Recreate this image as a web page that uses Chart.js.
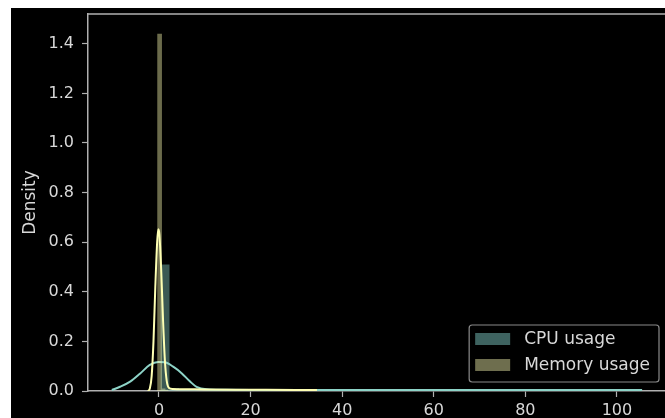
<!DOCTYPE html>
<html>
<head>
<meta charset="utf-8">
<script src="https://cdn.jsdelivr.net/npm/chart.js@4.4.1/dist/chart.umd.min.js"></script>
<style>
  html, body { margin: 0; padding: 0; background: #fff; overflow: hidden; }
  #wrap { position: absolute; left: 11px; top: 8px; width: 654px; height: 410px; background: #000; }
  canvas { display: block; }
</style>
</head>
<body>
<div id="wrap"><canvas id="chart" width="654" height="410"></canvas></div>
<script>
// histogram bins (density)
const cpuBinEdges = [0.3, 2.3, 4.4, 6.5, 8.6, 10.7, 12.8];
const cpuBinHeights = [0.51, 0.012, 0.006, 0.004, 0.003, 0.002, 0];
const memBinEdges = [-0.4, 0.65, 1.4, 2.1];
const memBinHeights = [1.44, 0.01, 0.005, 0];

// kde curves
const cpuKdeX = [-10.3, -8.5, -6.3, -4.1, -2.0, -0.15, 1.3, 3.1, 5.0, 6.8, 8.2, 10.4, 14, 20, 30, 45, 60, 80, 100, 105.5];
const cpuKdeY = [0.004, 0.017, 0.038, 0.071, 0.105, 0.117, 0.116, 0.098, 0.071, 0.038, 0.017, 0.007, 0.005, 0.004, 0.004, 0.004, 0.004, 0.004, 0.004, 0.004];
const memKdeX = [-2.4, -2.0, -1.6, -1.2, -0.8, -0.4, -0.15, 0.1, 0.5, 0.9, 1.3, 1.7, 2.2, 3, 6, 10, 20, 30, 34.5];
const memKdeY = [0, 0.01, 0.06, 0.2, 0.42, 0.6, 0.652, 0.63, 0.48, 0.28, 0.12, 0.04, 0.012, 0.008, 0.007, 0.006, 0.005, 0.004, 0.004];

const xTicks = [0, 20, 40, 60, 80, 100];
const yTicks = [0, 0.2, 0.4, 0.6, 0.8, 1.0, 1.2, 1.4];
const seriesNames = ['CPU usage', 'Memory usage'];

const textColor = '#d8d8d8';
const spineColor = '#b0b0b0';
const font = 'DejaVu Sans';

const pts = (xs, ys) => xs.map((x, i) => ({ x: x, y: ys[i] }));

// top spine + legend drawn by hand (matplotlib style)
const extras = {
  id: 'extras',
  afterDraw(chart) {
    const { ctx, chartArea: a } = chart;
    ctx.save();
    ctx.strokeStyle = spineColor;
    ctx.lineWidth = 1.5;
    ctx.beginPath();
    ctx.moveTo(a.left, a.top);
    ctx.lineTo(a.right, a.top);
    ctx.stroke();

    ctx.font = '17px "' + font + '"';
    const items = [
      { label: seriesNames[0], color: '#3e6360' },
      { label: seriesNames[1], color: '#6e6e4e' }
    ];
    const tw = Math.max(...items.map(it => ctx.measureText(it.label).width));
    const w = 6 + 35 + 14 + tw + 9, h = 57;
    const x0 = a.right - 6 - w, y0 = a.bottom - 9 - h;
    ctx.fillStyle = 'rgba(0,0,0,0.8)';
    ctx.strokeStyle = '#8a8a8a';
    ctx.lineWidth = 1.2;
    ctx.beginPath();
    ctx.roundRect(x0, y0, w, h, 3);
    ctx.fill();
    ctx.stroke();
    items.forEach((it, i) => {
      const cy = y0 + 14 + i * 26;
      ctx.fillStyle = it.color;
      ctx.fillRect(x0 + 6, cy - 6, 35, 12);
      ctx.fillStyle = textColor;
      ctx.textBaseline = 'middle';
      ctx.fillText(it.label, x0 + 6 + 35 + 14, cy + 1);
    });
    ctx.restore();
  }
};

new Chart(document.getElementById('chart'), {
  type: 'line',
  data: {
    datasets: [
      { label: seriesNames[1] + ' kde', data: pts(memKdeX, memKdeY), borderColor: '#feffb3', borderWidth: 2, pointRadius: 0, cubicInterpolationMode: 'monotone', order: 0 },
      { label: seriesNames[1], data: pts(memBinEdges, memBinHeights), stepped: 'before', fill: 'origin', backgroundColor: 'rgba(254,255,179,0.42)', borderWidth: 0, pointRadius: 0, order: 1 },
      { label: seriesNames[0] + ' kde', data: pts(cpuKdeX, cpuKdeY), borderColor: '#8dd3c7', borderWidth: 2, pointRadius: 0, cubicInterpolationMode: 'monotone', order: 2 },
      { label: seriesNames[0], data: pts(cpuBinEdges, cpuBinHeights), stepped: 'before', fill: 'origin', backgroundColor: 'rgba(141,211,199,0.42)', borderWidth: 0, pointRadius: 0, order: 3 }
    ]
  },
  options: {
    responsive: false,
    animation: false,
    layout: { padding: { top: 6, right: 0, left: 0, bottom: 0 } },
    plugins: { legend: { display: false }, tooltip: { enabled: false } },
    scales: {
      x: {
        type: 'linear',
        min: -15.5,
        max: 110.5,
        afterBuildTicks: s => { s.ticks = xTicks.map(v => ({ value: v })); },
        afterFit: s => { s.height = 27; s.paddingLeft = 0; s.paddingRight = 0; },
        grid: { drawOnChartArea: false, drawTicks: true, tickLength: 6, tickColor: spineColor, tickWidth: 1.2 },
        border: { display: true, color: spineColor, width: 1.5 },
        ticks: { color: textColor, font: { family: font, size: 16 }, padding: 4, maxRotation: 0 }
      },
      y: {
        min: 0,
        max: 1.52,
        afterBuildTicks: s => { s.ticks = yTicks.map(v => ({ value: v })); },
        afterFit: s => { s.width = 77; s.paddingTop = 0; s.paddingBottom = 0; },
        grid: { drawOnChartArea: false, drawTicks: true, tickLength: 6, tickColor: spineColor, tickWidth: 1.2 },
        border: { display: true, color: spineColor, width: 1.5 },
        ticks: { color: textColor, font: { family: font, size: 16 }, padding: 8, callback: v => v.toFixed(1) },
        title: { display: true, text: 'Density', color: textColor, font: { family: font, size: 17 }, padding: { top: 9, bottom: 0 } }
      }
    }
  },
  plugins: [extras]
});
</script>
</body>
</html>
